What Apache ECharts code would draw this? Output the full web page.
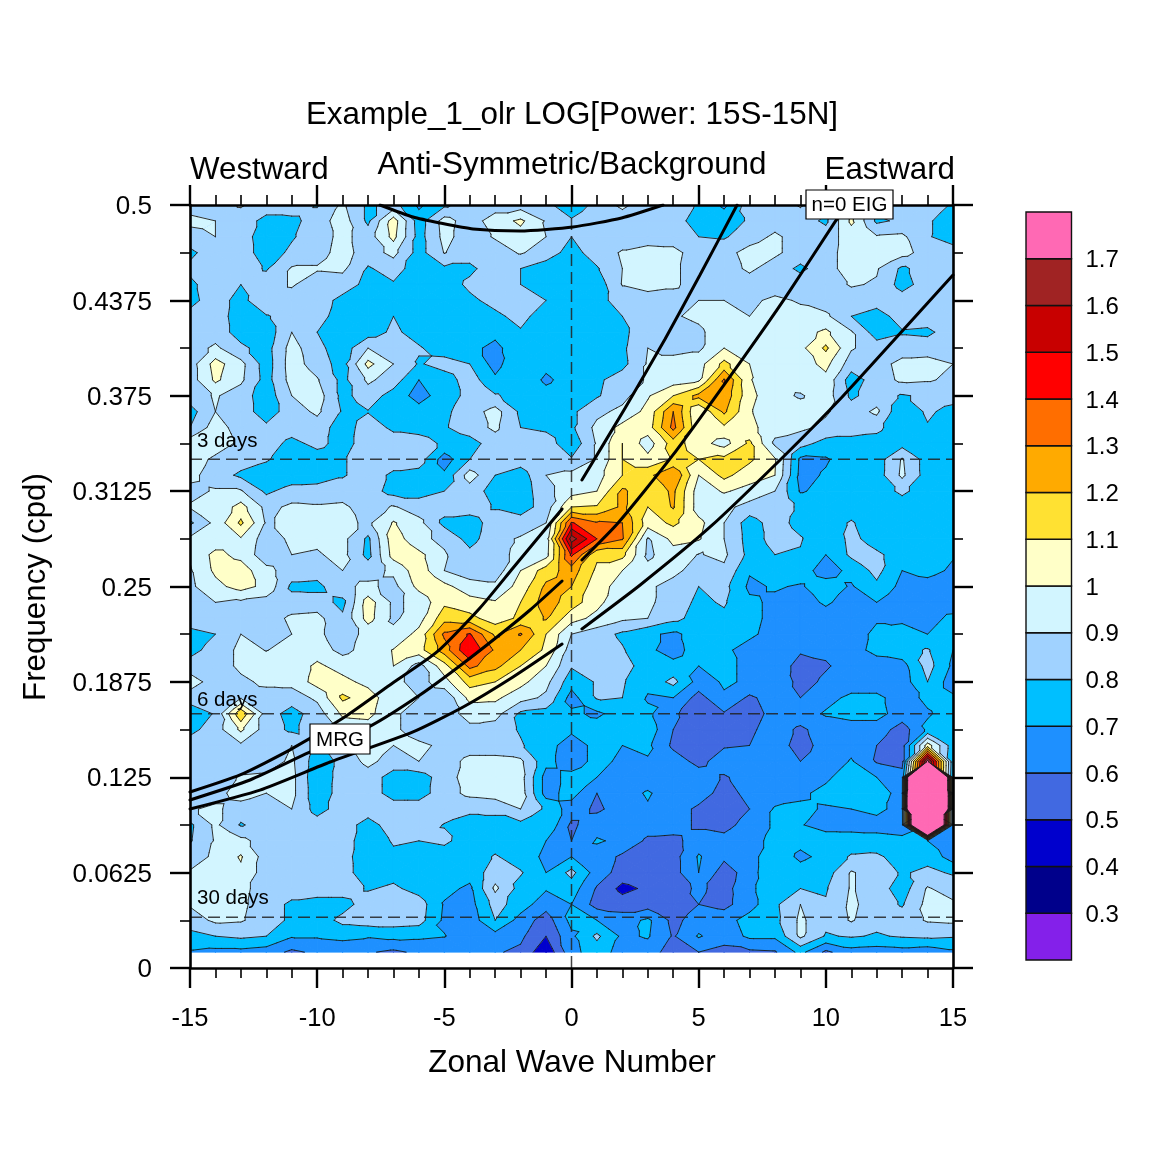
<!DOCTYPE html>
<html><head><meta charset="utf-8">
<style>html,body{margin:0;padding:0;background:#fff}#c{width:1173px;height:1173px}</style>
<script src="https://cdn.jsdelivr.net/npm/echarts@6/dist/echarts.min.js"></script>
</head><body><div id="c"></div>
<script>
// zonal wave numbers, left to right
const waveNumbers=[-15,-14,-13,-12,-11,-10,-9,-8,-7,-6,-5,-4,-3,-2,-1,0,1,2,3,4,5,6,7,8,9,10,11,12,13,14,15];
// frequency row number (n/96 cpd) of each row of powerRows, top to bottom
const freqSteps=[48,47,46,45,44,43,42,41,40,39,38,37,36,35,34,33,32,31,30,29,28,27,26,25,24,23,22,21,20,19,18,17,16,15,14,13,12,11,10,9,8,7,6,5,4,3,2,1];
// power x100
const powerRows=[
[85,85,91,85,87,79,92,78,84,68,78,85,85,85,84,70,85,92,85,85,79,68,85,85,91,83,96,84,90,85,79],
[93,90,85,77,77,85,95,78,105,75,94,85,95,102,89,82,82,85,85,84,76,76,81,85,85,78,102,78,82,81,76],
[85,90,85,74,79,85,93,85,103,76,93,85,91,96,90,80,85,85,85,85,80,79,85,92,85,85,95,91,92,81,75],
[78,85,85,75,82,86,94,85,93,76,90.5,84,85,91,85,76,85,91,94,93,85,86,94,92,85,85,96,92,94,85,85],
[82,85,85,79,91,91,92,79,84,75,78,78,85,80,75,75,79,90,92,92,85,85,92,85,78,85,96,91,78,85,85],
[78,85,80,85,91,85,85,77,79,75,75,82,85,80,75,74,74,90.5,94,92,85,85,85,85,85,85,91,89,76,85,85],
[77,85,76,90,86,85,77,75,74,74,75,78,83,85,80,74,76,85,85,85,90,90,88,92,89,85,85,85,85,85,85],
[83,85,75,79,85,84,75,74,80,75,74,74,78,83,75,73,73,80,85,89,92,94,90,94,93,92,80,75,85,85,85],
[85,85,76,74,90,80,74,75,82,76,74,74,72,79,74,72,72,77,88,87,88,96,96,97,96,102,91,75,79,78,85],
[85,92,82,76,94,83,74,90,84,81,75,72,68,75,74,72,74,78,90,85,88,100,97,95,97,112,91,85,85,85,85],
[85,104,93,75,95,85,76,103,90,79,84,80,66,80,73,74,76,77,91,96,96,113,100,95,95,103,85,86,93,94,90],
[85,102,92,76,94,91,77,92,85,70,75,85,72,78,68,75,78,85,91,95,98,131,101,90,95,97,75,85,92,91,88],
[85,91,85,74,90,95,77,85,76,66,75,83,81,76,74,72,79,86,99,110,123,127,103,93,89,95,78,85,79,82,85],
[76,90,85,75,85,92,79,79.5,76,74,78,85,94,78,76,78,87,93,103,130,100,122,101,93,94,91,85,92,71,82,76],
[80,95,85,82,85,85,75,85,78,76,79,85,92,80,78,78,93,103,105,133,102,108,103,94,92,88,85,83,72,79,75],
[96,95,88,85,77,83,76,85,85,85,78,76,85,85,85,73,91,110,95,115,104,96,112,88,84,76,76,75,76,76,78],
[95,88,85,81,75,75,79,85,85,85,65,80,85,85,85,81,91,110,103,111,110,113,112,101,68,69,75,75,91,75,75],
[93,85,78,75,74,74,79,85,78,76,72,95,80,75,90,93,96,110,117,130,100,113,104,100,67,71,75,75,92,75,75],
[87,91,91,78,84,85,85,85,76,76,80,85,76,74,87,96,100,122,112,122,95,101,97,90,69,73,75,75,82,75,75],
[91,92,104,87,92,91,92,85,91,85,85,85,79,75,85,110,111,122,110,121,95,93,86,83,79,75,75,75,75,75,75],
[78,93,112,89,92,92,93,88,101,93,77,75,85,85,90,141,131,130,105,112,103,90,75,85,76,75,81,74,75,70,75],
[92,93,99,85,92,92,93,78,106,92,88,76,87,91,95,165,140,131,89,103,101,90,76,83,81,71,83,75,75,75,75],
[91,103,97,84,90,89,93,77,104,103,91,83,85,94,96,142,112,113,88,96,89.5,92,77,80,79,70,82,82,75,75,71],
[89,102,105,93,85,85,90,86,92,106,90,85,85,100,115,125,108,100,93,93,85,88,71,75,75,65,73,83,70,74,68],
[88,97,104,97,78,77,88,92,87,103,103,94,92,104,122,120,104,96,92,86,80,83,68,71,69,75,69,78,67,65,66],
[87,90,88,86,84,85,77,105,88,93,108,104,101,110,125,115,103,92,92,85,78,81,72,68,67,71,67,70,69,69,65],
[85,85,85,85,92,93,82,104,88,96,116,113,105,112,121,104,97,92,90,83,76,78,73,67,66,67,66,69,67,67,72],
[77,80,90,85,90,92,85,93,93,103,132,141,118,131,110,90,85,78,72,68,74,75,72,66,66,66,66,72,76,70,75],
[76,85,92,89.8,92,95,87,94,100.5,106,125,150,128,120,108,85,84,81,72,66,75,72,66,65,61,62,66,73,76,81,70],
[85,85,92,93,94,102,96,93,100,86,106,133,123,110,100,81,83,85,74,73,70,72,68,65,57,59,64,65,66,84,68],
[95,85,88,92,93,104,103,97,93,86,96,114,110,103,93,74,81,81,73,83,66,71,69,69.5,56,62,65,65,65,80,64],
[85,85,89,86,85,92,112,105,93,90,82,103,102,94,88,66,81,80,69,70,56,69,58,65,60,67,72,72,66,72,72],
[73,81,118,85,76,85,102,103,92,85,86,93,94,78,76,72,68,75,72,62,53,59,56,63,66,71,73,73,66,69,74],
[77,85,102,85,78,85,93,95,92,85,85,88,85,79,74,72,75,75,76,60,56,56,58,65,58,65,66,66,55,72,75],
[85,85,88,85,90,78,88,92,90,92,88,85,85,81,74,65,73,70,72,58,55,59,60,65,56,64,66,60,56,105,74],
[85,85,85,85,92,74,83,93,85,90,85,93,93,92,73,65,73,68,69,65,57,65,66,66,60,62,71,59,56,175,72],
[85,85,91,92,93,72,85,85,76,75,85,95,96,94,66,73,70,67,65,65,65,59,64,65,66,68,76,70,65,550,70],
[85,86,95,90,93,73,85,85,76,76,85,93,95,95,66,74,60,66,71,65,65,56,63,65,68,73,76,75,66,600,70],
[89,92,85,86,90,76,85,85,85,85,85,81,82,90,78,65,58,65,69,65,58,56,60,71,72,69,70,72,67,600,68],
[78,92,79,85,85,85,85,76,85,85,79.5,78,77,77,79,58,66,65,65,65,58,55,66,71,70.5,67,66,67,66,360,68],
[79,91,93,85,85,85,85,74,81,80,82,75,75,75,70,60,71,68,58,57,65,65,65,74,74,74,75,73,72,70,68],
[85,92,101,85,85,85,85,72,78,75,75,74,81,75,68,70,66,58,55,56,71,62,65,79,67,74,81,82,75,77,65],
[91,93,98,85,85,85,85,73,76,74,74,74,85,81,70,83,65,56,54,56,70,55,65,80,76,75,91,85,79,82,79],
[92,95,93,85,85,85,85,79,82,76,73,68,92,76,71,75,59,47,52,55,62,56,68,76,80,79,91,85,75,91,85],
[91,96,92,85,78,76,76,85,90,85,69,66,84,75,64,70,56,55,55,58,60,57,66,78,90,81,92,85,79,93,92],
[85,92,91,85,78,74,83,85,85,84,68,64,80,66,55,73,70,65,72,57,65,66,74,77,92,83,91,83,85,91,92],
[77,80,82,80,71,71,72,71,73,72,70.5,63,66,62,50,68,82,68,71,59,71,64,72,72,92,79,81,79,81,82,81],
[69,67,67,65,58,62,65,61,58,62,62,65,61,58,42,67,75,66,65,55,60,57,58,59,73,58,66,65,66,64,68]
];
// contour levels and the colour of each band (one more colour than levels)
const levels=[0.3,0.4,0.5,0.6,0.7,0.8,0.9,1,1.1,1.2,1.3,1.4,1.5,1.6,1.7];
const bandColors=['#8420EA','#00008B','#0000CD','#4169E1','#1E90FF','#00BFFF','#A0D2FF','#D2F5FF','#FFFFC8','#FFE132','#FFAA00','#FF6E00','#FF0000','#C80000','#A02323','#FF69B4'];
// dispersion curves as [wave number, frequency]
const mrgUpper=[[-15,.1153],[-13.03,.1265],[-11.07,.1429],[-8.98,.1638],[-7.14,.1855],[-5.29,.2071],[-3.6,.2359],[-2.3,.2621],[-0.37,.3008]];
const mrgMiddle=[[-15,.1101],[-12.64,.1232],[-10.36,.1409],[-7.84,.1592],[-5.96,.1789],[-4.5,.1966],[-2.93,.2169],[-1.63,.2346],[-0.37,.2536]];
const mrgLower=[[-15,.1042],[-12.25,.1166],[-9.49,.135],[-6.23,.1547],[-4.26,.171],[-2.3,.1907],[-.37,.2123]];
const eigLeft=[[.41,.3198],[2.11,.367],[3.68,.4122],[5.05,.4541],[6.51,.5]];
const eigMiddle=[[.41,.2674],[1.83,.2916],[3.99,.3362],[6.75,.3997],[8.4,.4391],[10.36,.4889],[10.84,.5]];
const eigRight=[[.41,.2222],[2.7,.251],[5.45,.289],[8.4,.3362],[10.64,.3742],[13.04,.4181],[15,.4541]];
const topArc=[[-7.53,.5],[-6.23,.4921],[-5.17,.4882],[-3.87,.4843],[-2.02,.483],[.06,.4856],[1.97,.4915],[3.6,.5]];
const periodFreqs=[1/30,1/6,1/3];
const yTickLabels=['0','0.0625','0.125','0.1875','0.25','0.3125','0.375','0.4375','0.5'];

const FONT='"Liberation Sans",Arial,Helvetica,sans-serif';
const freqs=freqSteps.map(n=>n/96);
const cells=[];
for(let r=0;r+1<powerRows.length;r++){
  for(let c=0;c+1<waveNumbers.length;c++){
    cells.push([waveNumbers[c],freqs[r+1],waveNumbers[c+1],freqs[r],
      powerRows[r+1][c]/100,powerRows[r+1][c+1]/100,powerRows[r][c+1]/100,powerRows[r][c]/100]);
  }
}
function clip(poly,level,keepAbove){
  const out=[];
  for(let i=0;i<poly.length;i++){
    const a=poly[i],b=poly[(i+1)%poly.length];
    const ai=keepAbove?a[2]>=level:a[2]<=level, bi=keepAbove?b[2]>=level:b[2]<=level;
    if(ai)out.push(a);
    if(ai!==bi){const t=(level-a[2])/(b[2]-a[2]);out.push([a[0]+t*(b[0]-a[0]),a[1]+t*(b[1]-a[1]),level]);}
  }
  return out;
}
// each cell is cut into four triangles around its centre (median of corners) so that saddles resolve one way
function cellTriangles(api){
  const x0=api.value(0),y0=api.value(1),x1=api.value(2),y1=api.value(3);
  const q=[[x0,y0,api.value(4)],[x1,y0,api.value(5)],[x1,y1,api.value(6)],[x0,y1,api.value(7)]];
  const s=q.map(p=>p[2]).sort((a,b)=>a-b);
  const m=[(x0+x1)/2,(y0+y1)/2,(s[1]+s[2])/2];
  return [[q[0],q[1],m],[q[1],q[2],m],[q[2],q[3],m],[q[3],q[0],m]];
}
function renderFill(params,api){
  const kids=[];
  for(const q of cellTriangles(api)){
    const vs=q.map(p=>p[2]),mn=Math.min(...vs),mx=Math.max(...vs);
    for(let b=0;b<bandColors.length;b++){
      const lo=b===0?-Infinity:levels[b-1],hi=b===levels.length?Infinity:levels[b];
      if(mx<lo||mn>hi)continue;
      let p=q;
      if(lo>-Infinity)p=clip(p,lo,true);
      if(p.length>2&&hi<Infinity)p=clip(p,hi,false);
      if(p.length<3)continue;
      kids.push({type:'polygon',shape:{points:p.map(v=>api.coord([v[0],v[1]]))},
        style:{fill:bandColors[b],stroke:bandColors[b],lineWidth:1}});
    }
  }
  return {type:'group',children:kids};
}
function renderLines(params,api){
  const kids=[];
  for(const q of cellTriangles(api)){
    for(const L of levels){
      const pts=[];
      for(let i=0;i<3;i++){
        const a=q[i],b=q[(i+1)%3];
        if((a[2]<L)!==(b[2]<L)){const t=(L-a[2])/(b[2]-a[2]);pts.push(api.coord([a[0]+t*(b[0]-a[0]),a[1]+t*(b[1]-a[1])]));}
      }
      if(pts.length===2)kids.push({type:'line',shape:{x1:pts[0][0],y1:pts[0][1],x2:pts[1][0],y2:pts[1][1]},
        style:{stroke:'#1a1a1a',lineWidth:1,lineCap:'round',opacity:0.9}});
    }
  }
  return {type:'group',children:kids};
}
const curve=d=>({type:'line',data:d,xAxisIndex:0,yAxisIndex:0,smooth:0.2,showSymbol:false,silent:true,z:6,
  lineStyle:{color:'#000',width:3,cap:'round'}});
const dash=d=>({type:'line',data:d,xAxisIndex:0,yAxisIndex:0,showSymbol:false,silent:true,z:5,
  lineStyle:{color:'#222',width:1.5,type:[12,6],opacity:0.85}});

const axisBase={min:-15,max:15,interval:5,gridIndex:0,z:20,
  splitLine:{show:false},
  axisLine:{onZero:false,lineStyle:{color:'#000',width:2.6}},
  axisTick:{show:true,length:20,inside:false,lineStyle:{color:'#000',width:2.4}},
  minorTick:{show:true,splitNumber:5,length:10,lineStyle:{color:'#000',width:1.6}}};
const yBase={min:0,max:0.5,interval:0.0625,gridIndex:0,z:20,
  splitLine:{show:false},
  axisLine:{onZero:false,lineStyle:{color:'#000',width:2.6}},
  axisTick:{show:true,length:20,lineStyle:{color:'#000',width:2.4}},
  minorTick:{show:true,splitNumber:2,length:10,lineStyle:{color:'#000',width:1.6}}};

const txt=(x,y,text,size,extra)=>Object.assign({type:'text',x,y,z:100,silent:true,
  style:Object.assign({text,font:size+'px '+FONT,fill:'#000',textAlign:'left',textVerticalAlign:'middle'},extra||{})});
const boxed=(x,y,w,h,text,size)=>[
  {type:'rect',z:99,silent:true,shape:{x,y,width:w,height:h},style:{fill:'#fff',stroke:'#000',lineWidth:1.2}},
  {type:'text',z:100,silent:true,x:x+w/2,y:y+h/2+1,style:{text,font:size+'px '+FONT,fill:'#000',textAlign:'center',textVerticalAlign:'middle'}}];

const chart=echarts.init(document.getElementById('c'),null,{renderer:'canvas'});
chart.setOption({
  animation:false,backgroundColor:'#fff',
  grid:[{left:190,top:205,width:763,height:763},{left:1026,top:212,width:45.5,height:748}],
  xAxis:[
    Object.assign({},axisBase,{type:'value',position:'bottom',axisLabel:{fontFamily:FONT,fontSize:25.5,color:'#000',margin:38}}),
    Object.assign({},axisBase,{type:'value',position:'top',axisLabel:{show:false}}),
    {type:'value',gridIndex:1,min:0,max:1,show:false}
  ],
  yAxis:[
    Object.assign({},yBase,{type:'value',position:'left',axisLabel:{color:'#000',margin:38,
      rich:{t:{fontFamily:FONT,fontSize:26,color:'#000',padding:[4,0,0,0]}},
      formatter:(v)=>'{t|'+yTickLabels[Math.round(v/0.0625)]+'}'}}),
    Object.assign({},yBase,{type:'value',position:'right',axisLabel:{show:false}}),
    {type:'value',gridIndex:1,position:'right',min:0.2,max:1.8,interval:0.1,splitLine:{show:false},
      axisLine:{show:false},axisTick:{show:false},
      axisLabel:{color:'#000',margin:14,
        rich:{t:{fontFamily:FONT,fontSize:24,color:'#000',padding:[4,0,0,0]}},
        formatter:v=>(v<0.25||v>1.75)?'':'{t|'+(Math.round(v*10)===10?'1':(Math.round(v*10)/10).toString())+'}'}}
  ],
  series:[
    {type:'custom',coordinateSystem:'cartesian2d',xAxisIndex:0,yAxisIndex:0,data:cells,encode:{x:[0,2],y:[1,3]},
      renderItem:renderFill,silent:true,z:2,progressive:0,clip:true},
    {type:'custom',coordinateSystem:'cartesian2d',xAxisIndex:0,yAxisIndex:0,data:cells,encode:{x:[0,2],y:[1,3]},
      renderItem:renderLines,silent:true,z:3,progressive:0,clip:true},
    dash([[-15,periodFreqs[0]],[15,periodFreqs[0]]]),
    dash([[-15,periodFreqs[1]],[15,periodFreqs[1]]]),
    dash([[-15,periodFreqs[2]],[15,periodFreqs[2]]]),
    dash([[0,0],[0,0.5]]),
    curve(mrgUpper),curve(mrgMiddle),curve(mrgLower),curve(eigLeft),curve(eigMiddle),curve(eigRight),curve(topArc),
    {type:'custom',coordinateSystem:'cartesian2d',xAxisIndex:2,yAxisIndex:2,silent:true,progressive:0,z:5,
      data:bandColors.map((c,i)=>[0,0.2+i*0.1,1,0.3+i*0.1]),encode:{x:[0,2],y:[1,3]},
      renderItem:(p,api)=>{
        const a=api.coord([api.value(0),api.value(1)]),b=api.coord([api.value(2),api.value(3)]);
        return {type:'rect',shape:{x:a[0],y:b[1],width:b[0]-a[0],height:a[1]-b[1]},
          style:{fill:bandColors[p.dataIndex],stroke:'#111',lineWidth:1.4}};
      }}
  ],
  graphic:[
    txt(572,115,'Example_1_olr LOG[Power: 15S-15N]',31.4,{textAlign:'center'}),
    txt(572,165,'Anti-Symmetric/Background',31.4,{textAlign:'center'}),
    txt(190,170,'Westward',31.3),
    txt(955,170,'Eastward',31.3,{textAlign:'right'}),
    txt(572,1063,'Zonal Wave Number',31.5,{textAlign:'center'}),
    {type:'text',z:100,silent:true,x:36,y:587,rotation:Math.PI/2,
      style:{text:'Frequency (cpd)',font:'31.3px '+FONT,fill:'#000',textAlign:'center',textVerticalAlign:'middle'}},
    txt(197,441,'3 days',20.5),txt(197,700,'6 days',20.5),txt(197,898,'30 days',20.5),
    ...boxed(310,724,60,30,'MRG',20.5),
    ...boxed(806,190,87,29,'n=0 EIG',20.5)
  ]
});
</script></body></html>
